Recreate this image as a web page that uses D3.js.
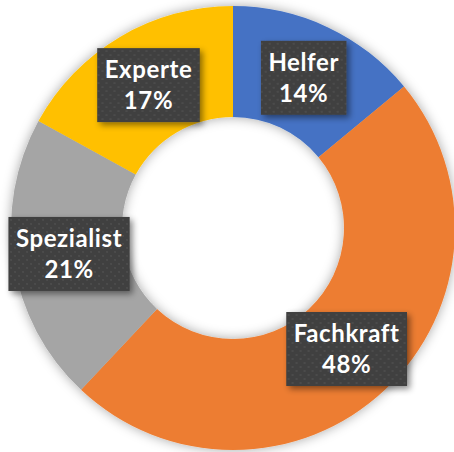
<!DOCTYPE html>
<html><head><meta charset="utf-8">
<script src="https://cdn.jsdelivr.net/npm/d3@7"></script>
<style>
html,body{margin:0;padding:0;background:#fff;}
svg{display:block;}
</style></head>
<body>
<svg id="chart" width="454" height="452"></svg>
<script>
const categories = ["Helfer", "Fachkraft", "Spezialist", "Experte"];
const values = [14, 48, 21, 17];
const colors = ["#4472C4", "#ED7D31", "#A5A5A5", "#FFC000"];

const W = 454, H = 452;
const cx = 233, cy = 228, outerR = 222, innerR = 111;
const svg = d3.select("#chart");
const defs = svg.append("defs");

const f = defs.append("filter").attr("id","ringShadow").attr("x","-20%").attr("y","-20%").attr("width","140%").attr("height","140%");
f.append("feDropShadow").attr("dx",0).attr("dy",0).attr("stdDeviation",6).attr("flood-color","#000").attr("flood-opacity",0.35);

const bf = defs.append("filter").attr("id","boxShadow").attr("x","-20%").attr("y","-20%").attr("width","150%").attr("height","150%");
bf.append("feDropShadow").attr("dx",3).attr("dy",3).attr("stdDeviation",3).attr("flood-color","#000").attr("flood-opacity",0.45);

const pat = defs.append("pattern").attr("id","dots").attr("patternUnits","userSpaceOnUse").attr("width",8).attr("height",8);
pat.append("rect").attr("width",8).attr("height",8).attr("fill","#404040");
pat.append("circle").attr("cx",2).attr("cy",2).attr("r",1.1).attr("fill","#4d4d4d");
pat.append("circle").attr("cx",6).attr("cy",6).attr("r",1.1).attr("fill","#4d4d4d");

const data = categories.map((c,i)=>({name:c, value:values[i], color:colors[i]}));
const pie = d3.pie().value(d=>d.value).sort(null);
const arcs = pie(data);
const arc = d3.arc().innerRadius(innerR).outerRadius(outerR);
const labelArc = d3.arc().innerRadius(166).outerRadius(166);

const g = svg.append("g").attr("transform",`translate(${cx},${cy})`);
g.append("g").attr("filter","url(#ringShadow)")
  .selectAll("path").data(arcs).join("path")
  .attr("d",arc).attr("fill",d=>d.data.color);

const total = d3.sum(values);
const lg = g.append("g");
arcs.forEach(a=>{
  const [x,y] = labelArc.centroid(a);
  const grp = lg.append("g").attr("transform",`translate(${x},${y})`);
  const box = grp.append("rect").attr("fill","url(#dots)").attr("filter","url(#boxShadow)");
  const t = grp.append("text").attr("text-anchor","middle")
    .style("font-family","Lato, 'Open Sans', sans-serif").style("font-weight","bold")
    .style("font-size","24px").style("letter-spacing","0.6px").attr("fill","#fff");
  t.append("tspan").attr("x",0).attr("y",-7).text(a.data.name);
  t.append("tspan").attr("x",0).attr("y",24).text(Math.round(a.data.value/total*100)+"%");
  const bb = t.node().getBBox();
  const w = bb.width + 15, h = 74;
  box.attr("x",-w/2).attr("y",-h/2).attr("width",w).attr("height",h);
});
</script>
</body></html>
